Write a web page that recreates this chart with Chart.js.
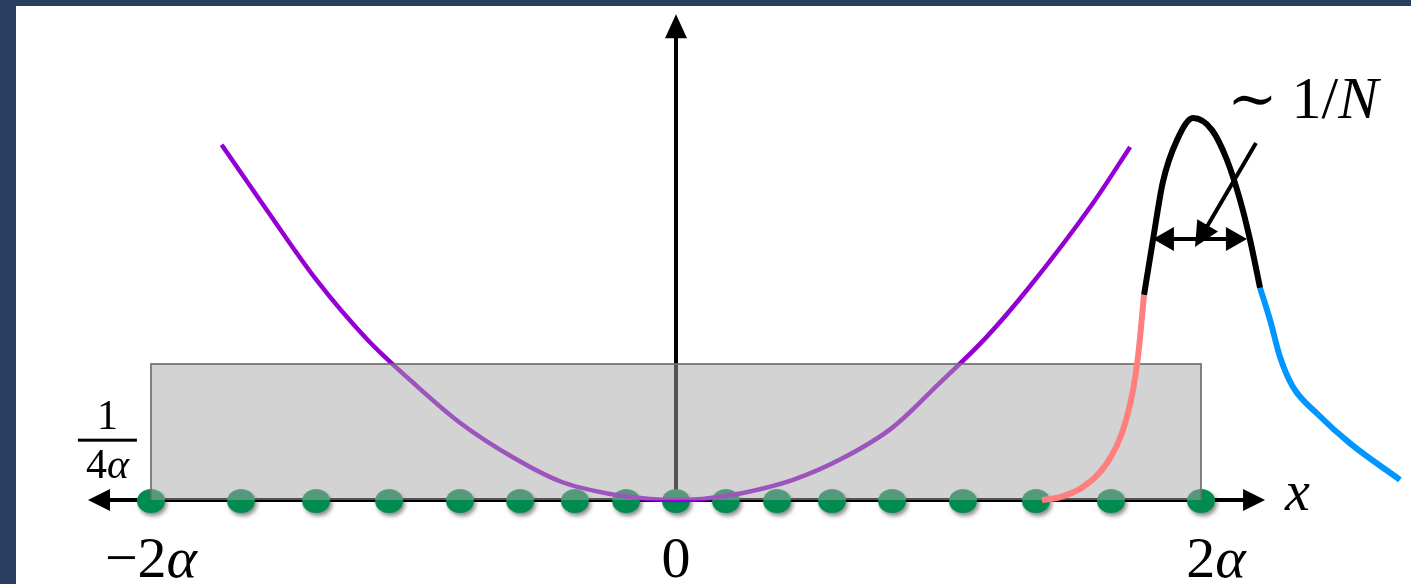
<!DOCTYPE html>
<html>
<head>
<meta charset="utf-8">
<script src="https://cdn.jsdelivr.net/npm/chart.js@4.4.1/dist/chart.umd.min.js"></script>
<style>
  html, body { margin: 0; padding: 0; width: 1411px; height: 584px; overflow: hidden; background: #293d5e; }
  #paper { position: absolute; left: 16px; top: 6px; right: 0; bottom: 0; background: #ffffff; }
  #wrap { position: absolute; left: 0; top: 0; width: 1411px; height: 584px; }
</style>
</head>
<body>
<div id="paper"></div>
<div id="wrap"><canvas id="c" width="1411" height="584"></canvas></div>
<script>
// Lattice sites along x (in units of alpha)
const sitePositions = [-2.0, -1.657, -1.371, -1.093, -0.823, -0.594, -0.385, -0.190, 0,
                       0.190, 0.385, 0.594, 0.823, 1.093, 1.371, 1.657, 2.0];

// Confining potential (purple)
const potentialX = [-1.731, -1.559, -1.369, -1.178, -1.000, -0.823, -0.620, -0.440, -0.250, -0.100, 0.000,
                    0.100, 0.255, 0.446, 0.636, 0.827, 1.000, 1.180, 1.337, 1.589, 1.730];
const potentialY = [0.653, 0.533, 0.404, 0.296, 0.215, 0.142, 0.078, 0.034, 0.011, 0.002, 0.000,
                    0.002, 0.013, 0.037, 0.077, 0.134, 0.213, 0.298, 0.386, 0.546, 0.649];

// Edge distribution: rising flank, peak, decaying tail
const riseX = [1.394, 1.463, 1.550, 1.642, 1.703, 1.741, 1.760, 1.783];
const riseY = [0.000, 0.0055, 0.024, 0.068, 0.129, 0.202, 0.263, 0.377];
const peakX = [1.783, 1.817, 1.855, 1.909, 1.970, 2.042, 2.099, 2.149, 2.187, 2.225];
const peakY = [0.377, 0.478, 0.585, 0.662, 0.702, 0.680, 0.625, 0.551, 0.478, 0.390];
const tailX = [2.225, 2.263, 2.301, 2.350, 2.442, 2.568, 2.758];
const tailY = [0.390, 0.331, 0.263, 0.208, 0.159, 0.104, 0.037];

// Flat density of height 1/(4 alpha) on [-2 alpha, 2 alpha]
const plateauEdges = [-2, 2];
const plateauHeight = 0.25;

// Axis tick labels
const tickValues = [-2, 0, 2];
const tickLabels = [
  [{ t: '\u22122' }, { t: '\u03B1', it: true }],
  [{ t: '0' }],
  [{ t: '2' }, { t: '\u03B1', it: true }]
];

const toPoints = (xs, ys) => xs.map((x, i) => ({ x, y: ys[i] }));

function makeSiteMarker() {
  const c = document.createElement('canvas');
  c.width = 44; c.height = 40;
  const g = c.getContext('2d');
  g.shadowColor = 'rgba(0,0,0,0.45)';
  g.shadowBlur = 4; g.shadowOffsetX = 2; g.shadowOffsetY = 3;
  g.fillStyle = '#008b4f';
  g.beginPath();
  g.ellipse(22, 21, 14, 12, 0, 0, Math.PI * 2);
  g.fill();
  return c;
}

const SERIF = '"Liberation Serif", "DejaVu Serif", serif';

function runsWidth(ctx, runs, size) {
  let w = 0;
  for (const r of runs) {
    ctx.font = (r.it ? 'italic ' : '') + size + 'px ' + SERIF;
    w += ctx.measureText(r.t).width + (r.gap || 0);
  }
  return w;
}
function drawRuns(ctx, runs, x, y, size, align) {
  let cx = x;
  if (align === 'center') cx = x - runsWidth(ctx, runs, size) / 2;
  for (const r of runs) {
    ctx.font = (r.it ? 'italic ' : '') + size + 'px ' + SERIF;
    ctx.fillText(r.t, cx, y);
    cx += ctx.measureText(r.t).width + (r.gap || 0);
  }
}
function arrowHead(ctx, x1, y1, x2, y2, len, half) {
  const a = Math.atan2(y2 - y1, x2 - x1);
  const bx = x2 - len * Math.cos(a), by = y2 - len * Math.sin(a);
  ctx.beginPath();
  ctx.moveTo(x2, y2);
  ctx.lineTo(bx + half * Math.sin(a), by - half * Math.cos(a));
  ctx.lineTo(bx - half * Math.sin(a), by + half * Math.cos(a));
  ctx.closePath();
  ctx.fill();
}
function arrowLine(ctx, x1, y1, x2, y2, len, half, both) {
  const a = Math.atan2(y2 - y1, x2 - x1);
  const sx = both ? x1 + (len - 2) * Math.cos(a) : x1, sy = both ? y1 + (len - 2) * Math.sin(a) : y1;
  ctx.beginPath();
  ctx.moveTo(sx, sy);
  ctx.lineTo(x2 - (len - 2) * Math.cos(a), y2 - (len - 2) * Math.sin(a));
  ctx.stroke();
  arrowHead(ctx, x1, y1, x2, y2, len, half);
  if (both) arrowHead(ctx, x2, y2, x1, y1, len, half);
}

// Axes with arrow heads, drawn beneath the data
const axesPlugin = {
  id: 'arrowAxes',
  beforeDatasetsDraw(chart, args, o) {
    const { ctx } = chart, X = chart.scales.x, Y = chart.scales.y;
    ctx.save();
    ctx.strokeStyle = '#000'; ctx.fillStyle = '#000'; ctx.lineWidth = 4;
    const y0 = Y.getPixelForValue(0);
    arrowLine(ctx, X.getPixelForValue(o.xFrom), y0, X.getPixelForValue(o.xTo), y0, 22, 11, true);
    const x0 = X.getPixelForValue(0);
    arrowLine(ctx, x0, y0, x0, Y.getPixelForValue(o.yTo), 24, 11, false);
    ctx.restore();
  }
};

// Labels and the width marker on the edge peak
const notesPlugin = {
  id: 'notes',
  afterDatasetsDraw(chart, args, o) {
    const { ctx } = chart, X = chart.scales.x, Y = chart.scales.y;
    const px = v => X.getPixelForValue(v), py = v => Y.getPixelForValue(v);
    ctx.save();
    ctx.fillStyle = '#000'; ctx.strokeStyle = '#000';
    ctx.textBaseline = 'alphabetic';

    // tick labels
    tickValues.forEach((v, i) => {
      drawRuns(ctx, tickLabels[i], px(v) + o.tickNudge[i], py(o.tickY), 58, 'center');
    });

    // axis name
    drawRuns(ctx, [{ t: 'x', it: true }], px(o.axisName[0]), py(o.axisName[1]), 56, 'left');

    // plateau height 1/(4 alpha)
    const fx = px(o.fraction[0]), fy = py(o.fraction[1]);
    drawRuns(ctx, [{ t: '1' }], fx, fy - 11, 42, 'center');
    drawRuns(ctx, [{ t: '4' }, { t: '\u03B1', it: true }], fx, fy + 38, 42, 'center');
    ctx.fillRect(fx - 29.5, fy - 1.5, 59, 3);

    // width marker
    ctx.lineWidth = 4;
    arrowLine(ctx, px(o.width[0]), py(o.width[2]), px(o.width[1]), py(o.width[2]), 21, 12, true);
    arrowLine(ctx, px(o.pointer[0]), py(o.pointer[1]), px(o.pointer[2]), py(o.pointer[3]), 25, 12, false);
    drawRuns(ctx, [{ t: '\u223C' }], px(o.simAt[0]), py(o.simAt[1]), 60, 'left');
    drawRuns(ctx, [{ t: '1/' }, { t: 'N', it: true }], px(o.scaling[0]), py(o.scaling[1]), 60, 'left');
    ctx.restore();
  }
};

const lineBase = { showLine: true, pointRadius: 0, pointHoverRadius: 0, fill: false,
                   cubicInterpolationMode: 'monotone', borderCapStyle: 'butt', borderJoinStyle: 'round' };

new Chart(document.getElementById('c'), {
  type: 'scatter',
  data: {
    datasets: [
      Object.assign({}, lineBase, { label: 'rise', data: toPoints(riseX, riseY), borderColor: '#ff7f7f', borderWidth: 6, order: 1 }),
      Object.assign({}, lineBase, { label: 'peak', data: toPoints(peakX, peakY), borderColor: '#000000', borderWidth: 6, order: 1 }),
      Object.assign({}, lineBase, { label: 'tail', data: toPoints(tailX, tailY), borderColor: '#0096ff', borderWidth: 6, order: 1 }),
      {
        label: 'plateau',
        data: [{ x: plateauEdges[0], y: 0 }, { x: plateauEdges[0], y: plateauHeight },
               { x: plateauEdges[1], y: plateauHeight }, { x: plateauEdges[1], y: 0 }],
        showLine: true, tension: 0, pointRadius: 0, pointHoverRadius: 0,
        fill: 'origin', backgroundColor: 'rgba(168,168,168,0.5)',
        borderColor: 'rgba(110,110,110,0.85)', borderWidth: 2, order: 2
      },
      Object.assign({}, lineBase, { label: 'potential', data: toPoints(potentialX, potentialY),
        borderColor: '#9400d3', borderWidth: 4.5, order: 3 }),
      {
        label: 'sites',
        data: sitePositions.map(x => ({ x, y: 0 })),
        showLine: false, pointStyle: makeSiteMarker(), pointRadius: 13, pointHoverRadius: 13, order: 4
      }
    ]
  },
  options: {
    responsive: false,
    animation: false,
    events: [],
    devicePixelRatio: 1,
    layout: { padding: 0, autoPadding: false },
    scales: {
      x: { type: 'linear', display: false, min: -2.5752, max: 2.8 },
      y: { type: 'linear', display: false, min: -0.15441, max: 0.91912 }
    },
    plugins: {
      legend: { display: false },
      tooltip: { enabled: false },
      arrowAxes: { xFrom: -2.24, xTo: 2.244, yTo: 0.893 },
      notes: {
        tickY: -0.1415,
        tickNudge: [0, 0, 15],
        axisName: [2.32, -0.018],
        fraction: [-2.166, 0.110],
        width: [1.817, 2.175, 0.4798],
        pointer: [2.2095, 0.6564, 1.9771, 0.4651],
        simAt: [2.100, 0.700],
        scaling: [2.345, 0.702]
      }
    }
  },
  plugins: [axesPlugin, notesPlugin]
});
</script>
</body>
</html>
